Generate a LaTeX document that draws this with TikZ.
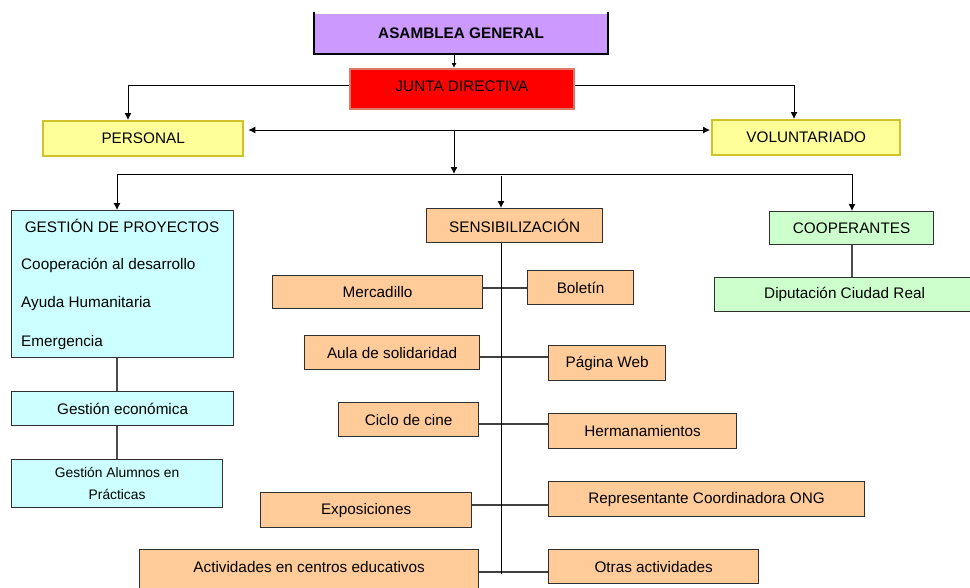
\documentclass[tikz,border=0pt]{standalone}
\usepackage{fontspec}
\setmainfont{Liberation Sans}
\usetikzlibrary{arrows.meta,calc}
\definecolor{cpurple}{HTML}{CC99FF}
\definecolor{cred}{HTML}{FF0000}
\definecolor{credb}{HTML}{E07868}
\definecolor{cyellow}{HTML}{FFFF99}
\definecolor{cyellowb}{HTML}{D2C22A}
\definecolor{ccyan}{HTML}{CCFFFF}
\definecolor{corange}{HTML}{FFCC99}
\definecolor{cgreen}{HTML}{CCFFCC}
\definecolor{cborder}{HTML}{303030}
\begin{document}
\begin{tikzpicture}[x=1pt,y=-1pt,
  box/.style={draw=cborder, line width=1.2pt, inner sep=0pt, anchor=north west,
    font=\fontsize{15.3}{18}\selectfont, align=center},
  txt/.style={inner sep=0pt, font=\fontsize{15.3}{18}\selectfont},
  conn/.style={draw=black, line width=0.9pt},
  arr/.style={conn, -{Latex[length=7pt,width=7pt]}},
  grayconn/.style={draw=black!70, line width=1.6pt},
  sideconn/.style={draw=black!75, line width=1.1pt}]
\useasboundingbox (0,0) rectangle (970,587);

% top
\node[box, draw=none, fill=cpurple, minimum width=293pt, minimum height=40pt] (asamblea) at (314,13) {\bfseries ASAMBLEA GENERAL};
\draw[line width=2.4pt, line cap=rect] (asamblea.north west) -- (asamblea.south west) -- (asamblea.south east) -- (asamblea.north east);
\node[box, fill=cred, draw=credb, line width=2pt, minimum width=224pt, minimum height=40pt, text depth=5pt] (junta) at (349,68) {JUNTA DIRECTIVA};
\draw[arr, -{Latex[length=5pt,width=5pt]}] (asamblea.south -| 454,0) -- (junta.north -| 454,0);

\node[box, fill=cyellow, draw=cyellowb, line width=2.4pt, minimum width=200pt, minimum height=35pt] (personal) at (42,120) {PERSONAL};
\node[box, fill=cyellow, draw=cyellowb, line width=2.4pt, minimum width=188pt, minimum height=35pt] (volunt) at (711,119) {VOLUNTARIADO};

\coordinate (jl) at (128,85);
\coordinate (jr) at (794,85);
\draw[arr] (junta.west |- jl) -- (jl) -- (jl |- personal.north);
\draw[arr] (junta.east |- jr) -- (jr) -- (jr |- volunt.north);

\coordinate (m1) at (454,130);
\coordinate (m2) at (454,174);
\draw[conn, {Latex[length=7pt,width=7pt]}-{Latex[length=7pt,width=7pt]}, shorten <=4pt, shorten >=1pt] (personal.east |- m1) -- (volunt.west |- m1);
\draw[arr] (m1) -- (m2);

\coordinate (hl) at (117,174);
\coordinate (hr) at (852,174);
\coordinate (hm) at (501,176);
\draw[conn] (hl) -- (hr);

% columns
\node[box, fill=ccyan, minimum width=222pt, minimum height=147pt] (gestion) at (11,210) {};
\node[box, fill=corange, minimum width=176pt, minimum height=34pt] (sens) at (426,208) {SENSIBILIZACIÓN};
\node[box, fill=cgreen, minimum width=164pt, minimum height=33pt] (coop) at (769,211) {COOPERANTES};

\draw[arr] (hl) -- (hl |- gestion.north);
\draw[arr] (hr) -- (hr |- coop.north);
\draw[arr] (hm) -- (hm |- sens.north);

% gestion content
\node[txt] (gtitle) at (122,226) {GESTIÓN DE PROYECTOS};
\node[txt, anchor=west] (g1) at (21,265) {Cooperación al desarrollo};
\node[txt, anchor=west] (g2) at (21,304) {Ayuda Humanitaria};
\node[txt, anchor=west] (g3) at (21,343) {Emergencia};

\node[box, fill=ccyan, minimum width=222pt, minimum height=34pt] (geco) at (11,391) {Gestión económica};
\node[box, fill=ccyan, minimum width=211pt, minimum height=48pt, font=\fontsize{13.8}{22}\selectfont, text depth=-3pt] (galum) at (11,459) {Gestión Alumnos en\\Prácticas};
\draw[grayconn] (gestion.south -| hl) -- (geco.north -| hl);
\draw[grayconn] (geco.south -| hl) -- (galum.north -| hl);

% cooperantes
\node[box, fill=cgreen, minimum width=260pt, minimum height=34pt] (dip) at (714,277) {Diputación Ciudad Real};
\draw[grayconn] (coop.south -| hr) -- (dip.north -| hr);

% sensibilizacion items
\node[box, fill=corange, minimum width=210pt, minimum height=33pt] (merc) at (272,275) {Mercadillo};
\node[box, fill=corange, minimum width=106pt, minimum height=34pt] (bol) at (527,270) {Boletín};
\node[box, fill=corange, minimum width=175pt, minimum height=34pt] (aula) at (304,335) {Aula de solidaridad};
\node[box, fill=corange, minimum width=117pt, minimum height=35pt] (web) at (548,345) {Página Web};
\node[box, fill=corange, minimum width=140pt, minimum height=34pt] (ciclo) at (338,402) {Ciclo de cine};
\node[box, fill=corange, minimum width=188pt, minimum height=35pt] (herm) at (548,413) {Hermanamientos};
\node[box, fill=corange, minimum width=211pt, minimum height=35pt] (expo) at (260,492) {Exposiciones};
\node[box, fill=corange, minimum width=316pt, minimum height=35pt] (repr) at (548,481) {Representante Coordinadora ONG};
\node[box, fill=corange, minimum width=339pt, minimum height=40pt, text depth=6pt] (activ) at (139,549) {Actividades en centros educativos};
\node[box, fill=corange, minimum width=210pt, minimum height=34pt] (otras) at (548,549) {Otras actividades};

\coordinate (v1) at (501,288);
\coordinate (v2) at (501,357);
\coordinate (v3) at (501,424);
\coordinate (v4) at (501,505);
\coordinate (v5) at (501,572);
\coordinate (vend) at (501,574);
\draw[sideconn] (merc.east |- v1) -- (bol.west |- v1);
\draw[sideconn] (aula.east |- v2) -- (web.west |- v2);
\draw[sideconn] (ciclo.east |- v3) -- (herm.west |- v3);
\draw[sideconn] (expo.east |- v4) -- (repr.west |- v4);
\draw[sideconn] (activ.east |- v5) -- (otras.west |- v5);
\draw[conn] (hm |- sens.south) -- (vend);
\end{tikzpicture}
\end{document}
